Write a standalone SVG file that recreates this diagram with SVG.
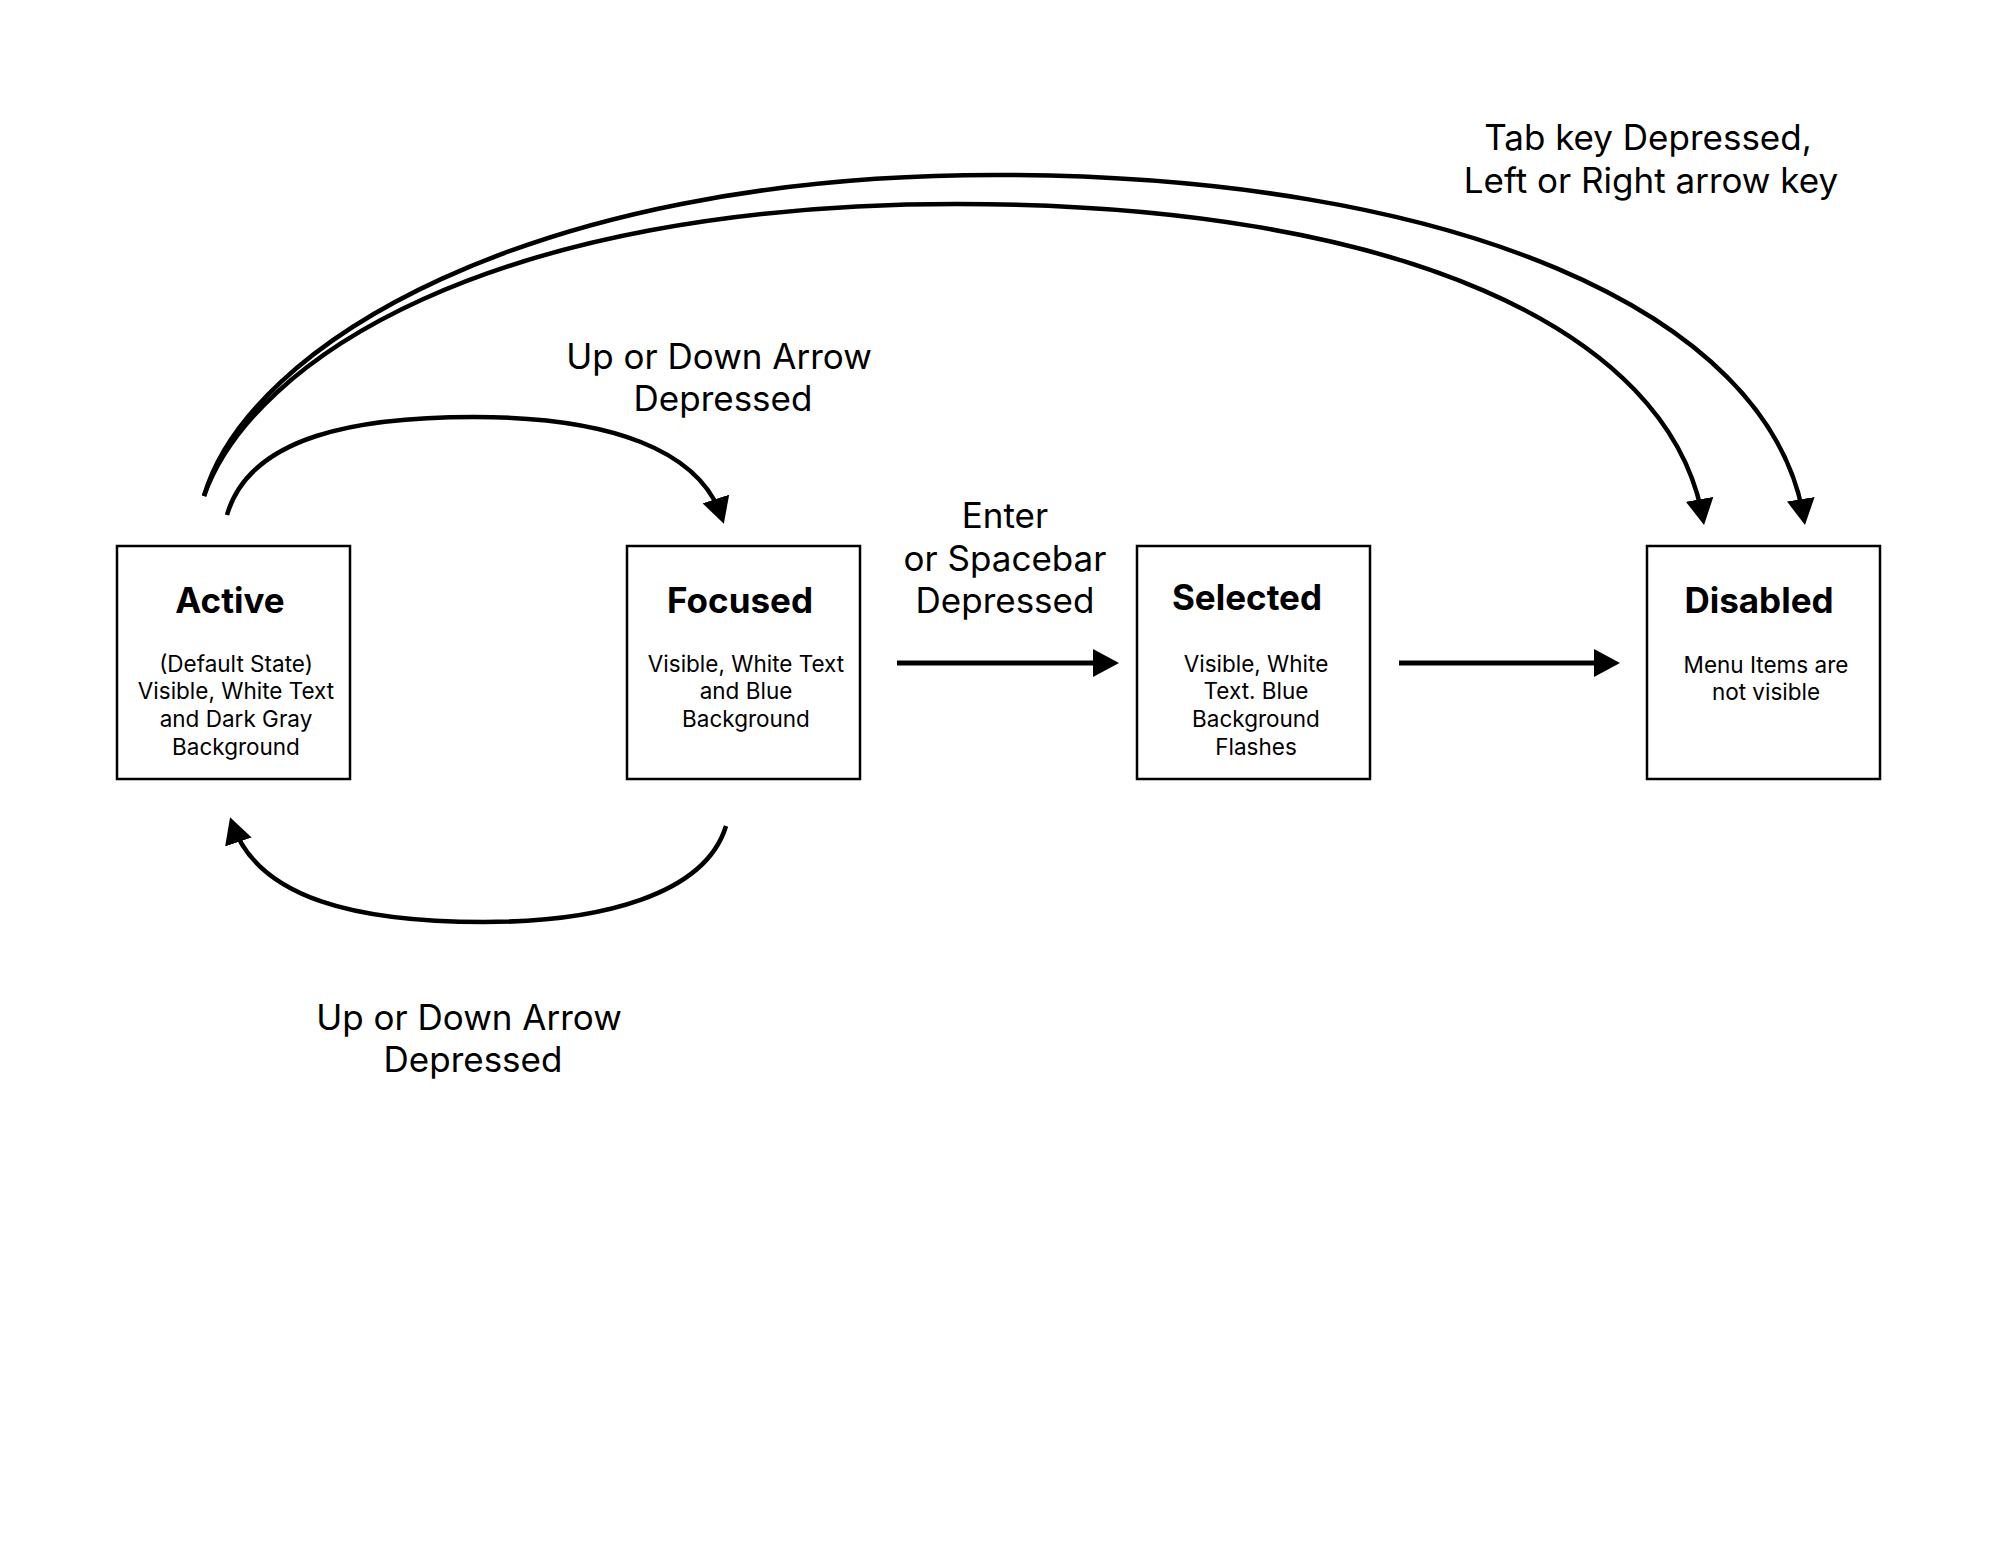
<svg xmlns="http://www.w3.org/2000/svg" width="2000" height="1545" viewBox="0 0 2000 1545">
<style>
.box{fill:#fff;stroke:#000;stroke-width:2.5}
.title{font-family:Inter,"Liberation Sans",sans-serif;font-weight:700;font-size:35px;fill:#000;text-anchor:middle}
.desc{font-family:Inter,"Liberation Sans",sans-serif;font-size:22.5px;fill:#000;text-anchor:middle}
.lbl{font-family:Inter,"Liberation Sans",sans-serif;font-size:35px;fill:#000;text-anchor:middle}
.edge{fill:none;stroke:#000;stroke-width:4.5}
.straight{fill:none;stroke:#000;stroke-width:5}
</style>
<defs>
<marker id="ah" markerUnits="userSpaceOnUse" viewBox="0 0 26 28" refX="20" refY="14" markerWidth="26" markerHeight="28" orient="auto">
<path d="M0,0 L26,14 L0,28 z" fill="#000"/>
</marker>
</defs>
<rect width="2000" height="1545" fill="#fff"/>
<g id="active">
<rect class="box" x="117" y="546" width="233" height="233"/>
<text class="title" x="230" y="613">Active</text>
<text class="desc" x="236" y="672">(Default State)</text>
<text class="desc" x="236" y="699">Visible, White Text</text>
<text class="desc" x="236" y="727">and Dark Gray</text>
<text class="desc" x="236" y="755">Background</text>
</g>
<g id="focused">
<rect class="box" x="627" y="546" width="233" height="233"/>
<text class="title" x="740" y="613">Focused</text>
<text class="desc" x="746" y="672">Visible, White Text</text>
<text class="desc" x="746" y="699">and Blue</text>
<text class="desc" x="746" y="727">Background</text>
</g>
<g id="selected">
<rect class="box" x="1137" y="546" width="233" height="233"/>
<text class="title" x="1247" y="610">Selected</text>
<text class="desc" x="1256" y="672">Visible, White</text>
<text class="desc" x="1256" y="699">Text. Blue</text>
<text class="desc" x="1256" y="727">Background</text>
<text class="desc" x="1256" y="755">Flashes</text>
</g>
<g id="disabled">
<rect class="box" x="1647" y="546" width="233" height="233"/>
<text class="title" x="1759" y="613">Disabled</text>
<text class="desc" x="1766" y="673">Menu Items are</text>
<text class="desc" x="1766" y="700">not visible</text>
</g>
<g id="connectors">
<path class="edge" d="M227,515 C250,435 360,417 474,417 C610,417 700,450 722,518" marker-end="url(#ah)"/>
<path class="edge" d="M726,826 C705,895 600,922 484,922 C360,922 258,900 232,823" marker-end="url(#ah)"/>
<path class="straight" d="M897,663 L1113,663" marker-end="url(#ah)"/>
<path class="straight" d="M1399,663 L1614,663" marker-end="url(#ah)"/>
<path class="edge" d="M204,496 C248,345 530,175 995,175 C1450,175 1770,310 1804,519" marker-end="url(#ah)"/>
<path class="edge" d="M204,496 C252,360 490,204 957,204 C1400,204 1670,330 1703,519" marker-end="url(#ah)"/>
</g>
<g id="labels">
<text class="lbl" x="719" y="369">Up or Down Arrow</text>
<text class="lbl" x="723" y="411">Depressed</text>
<text class="lbl" x="469" y="1030">Up or Down Arrow</text>
<text class="lbl" x="473" y="1072">Depressed</text>
<text class="lbl" x="1005" y="528">Enter</text>
<text class="lbl" x="1005" y="571">or Spacebar</text>
<text class="lbl" x="1005" y="613">Depressed</text>
<text class="lbl" x="1648" y="150">Tab key Depressed,</text>
<text class="lbl" x="1651" y="193">Left or Right arrow key</text>
</g>
</svg>
